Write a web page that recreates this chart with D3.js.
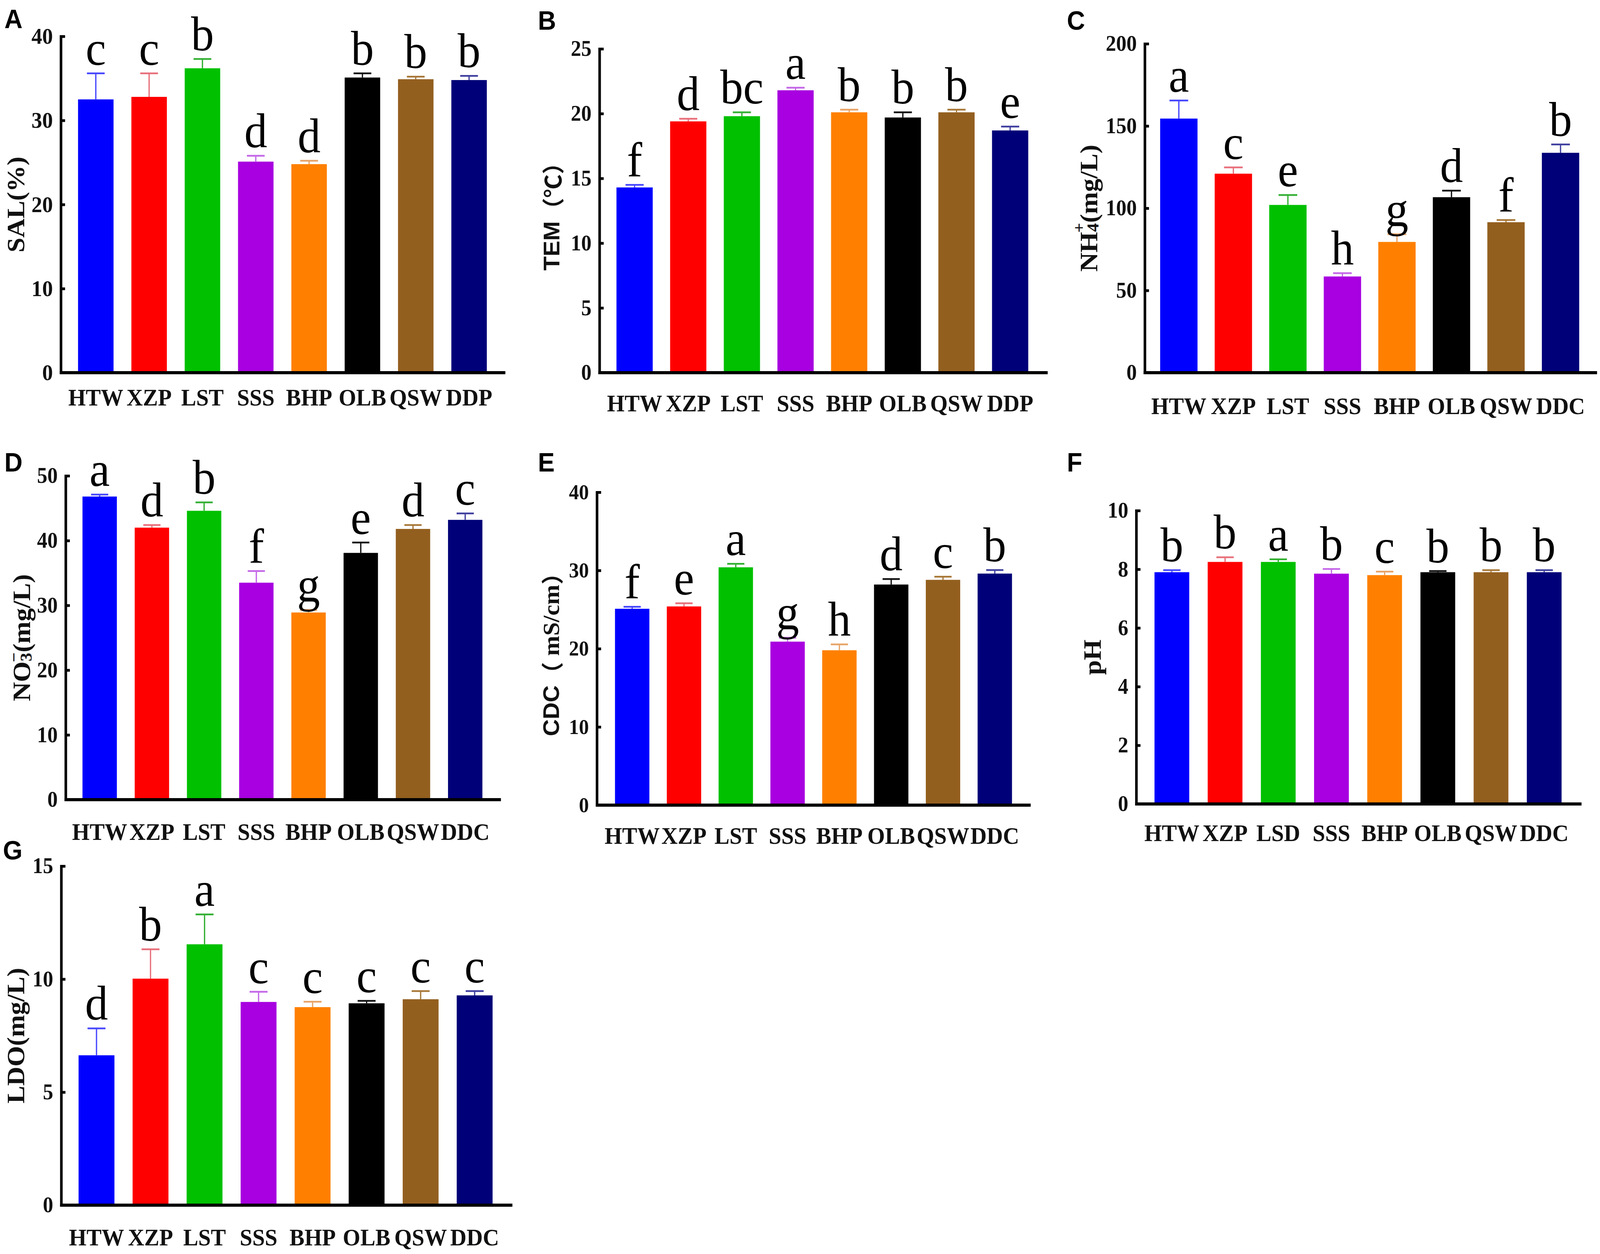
<!DOCTYPE html>
<html>
<head>
<meta charset="utf-8">
<script src="https://cdn.jsdelivr.net/npm/d3@7"></script>
<style>
  html, body { margin: 0; padding: 0; background: #ffffff; overflow: hidden; width: 100%; height: 100%; }
  svg { display: block; width: 100vw; height: 100vh; }
</style>
</head>
<body>
<svg id="chart" viewBox="0 0 4328 3210" preserveAspectRatio="none"></svg>
<script>
// ---------------- DATA ----------------
const sitesAB = ["HTW","XZP","LST","SSS","BHP","OLB","QSW","DDP"];
const sitesCDEG = ["HTW","XZP","LST","SSS","BHP","OLB","QSW","DDC"];
const sitesF = ["HTW","XZP","LSD","SSS","BHP","OLB","QSW","DDC"];

const salMean = [32.5, 32.8, 36.2, 25.1, 24.8, 35.1, 34.9, 34.8];
const salSD   = [3.1, 2.8, 1.1, 0.7, 0.4, 0.5, 0.3, 0.5];
const salSig  = ["c","c","b","d","d","b","b","b"];
const salTicks = [0, 10, 20, 30, 40];

const temMean = [14.3, 19.4, 19.8, 21.8, 20.1, 19.7, 20.1, 18.7];
const temSD   = [0.2, 0.2, 0.3, 0.2, 0.2, 0.4, 0.2, 0.3];
const temSig  = ["f","d","bc","a","b","b","b","e"];
const temTicks = [0, 5, 10, 15, 20, 25];

const nh4Mean = [154.5, 121.0, 102.0, 58.5, 79.5, 106.7, 91.5, 133.7];
const nh4SD   = [11.0, 3.8, 6.0, 2.0, 4.7, 4.0, 1.3, 5.1];
const nh4Sig  = ["a","c","e","h","g","d","f","b"];
const nh4Ticks = [0, 50, 100, 150, 200];

const no3Mean = [46.8, 42.0, 44.6, 33.5, 28.9, 38.1, 41.8, 43.2];
const no3SD   = [0.3, 0.4, 1.3, 1.8, 0.4, 1.6, 0.6, 1.0];
const no3Sig  = ["a","d","b","f","g","e","d","c"];
const no3Ticks = [0, 10, 20, 30, 40, 50];

const cdcMean = [25.1, 25.4, 30.4, 20.9, 19.8, 28.2, 28.8, 29.6];
const cdcSD   = [0.25, 0.4, 0.45, 0.5, 0.75, 0.7, 0.4, 0.45];
const cdcSig  = ["f","e","a","g","h","d","c","b"];
const cdcTicks = [0, 10, 20, 30, 40];

const phMean = [7.9, 8.25, 8.25, 7.85, 7.8, 7.9, 7.9, 7.9];
const phSD   = [0.07, 0.16, 0.09, 0.16, 0.12, 0.04, 0.07, 0.07];
const phSig  = ["b","b","a","b","c","b","b","b"];
const phTicks = [0, 2, 4, 6, 8, 10];

const ldoMean = [6.63, 10.02, 11.54, 8.99, 8.76, 8.93, 9.11, 9.28];
const ldoSD   = [1.19, 1.30, 1.32, 0.45, 0.24, 0.11, 0.36, 0.19];
const ldoSig  = ["d","b","a","c","c","c","c","c"];
const ldoTicks = [0, 5, 10, 15];

const barColors = ["#0000ff","#ff0000","#00c000","#a800e0","#ff8000","#000000","#935f1f","#000078"];
const errColors = ["#4848ff","#e8707c","#34b034","#c468e8","#e8a468","#111111","#a87838","#4040a0"];

// ---------------- FONTS ----------------
const SERIF = "'Liberation Serif','Times New Roman',serif";
const SANS = "'Liberation Sans',Arial,sans-serif";
const CJK = "'Noto Sans CJK SC','Noto Sans',sans-serif";

// y label parts (text pieces with font styling)
const S = (t, o) => Object.assign({t, f: SERIF, w: 700, s: 68}, o || {});
const ylabSAL = [S("SAL(%)")];
const ylabTEM = [S("TEM", {f: SANS, s: 60}), S("（℃）", {f: CJK, s: 60})];
const ylabNH4 = [S("NH"), S("4", {s: 44, dy: 12}), S("+", {s: 44, dx: -24, dy: -38}), S("(mg/L)", {dy: 26})];
const ylabNO3 = [S("NO"), S("3", {s: 44, dy: 12}), S("−", {s: 44, dx: -24, dy: -34}), S("(mg/L)", {dy: 22})];
const ylabCDC = [S("CDC", {f: SANS, s: 60}), S("（", {f: CJK, s: 60}), S(" mS/cm", {s: 62}), S("）", {f: CJK, s: 60})];
const ylabPH = [S("pH")];
const ylabLDO = [S("LDO(mg/L)")];

// ---------------- LAYOUT ----------------
const panels = [
  {id:"A", cats:sitesAB, mean:salMean, sd:salSD, sig:salSig, ticks:salTicks, ylab:ylabSAL,
   axisX:165, right:1367, b0:187, b1:1341, barW:96, top:93, base:954, labY:1016, tagX:12, tagY:72, ylabX:42, tickFs:58},
  {id:"B", cats:sitesAB, mean:temMean, sd:temSD, sig:temSig, ticks:temTicks, ylab:ylabTEM,
   axisX:1622, right:2834, b0:1644, b1:2805, barW:98, top:125, base:954, labY:1031, tagX:1455, tagY:76, ylabX:1492, tickFs:56},
  {id:"C", cats:sitesCDEG, mean:nh4Mean, sd:nh4SD, sig:nh4Sig, ticks:nh4Ticks, ylab:ylabNH4,
   axisX:3097, right:4320, b0:3115, b1:4295, barW:101, top:112, base:954, labY:1038, tagX:2886, tagY:76, ylabX:2944, tickFs:56},
  {id:"D", cats:sitesCDEG, mean:no3Mean, sd:no3SD, sig:no3Sig, ticks:no3Ticks, ylab:ylabNO3,
   axisX:178, right:1355, b0:199, b1:1329, barW:93, top:1218, base:2047, labY:2128, tagX:12, tagY:1207, ylabX:58, tickFs:56},
  {id:"E", cats:sitesCDEG, mean:cdcMean, sd:cdcSD, sig:cdcSig, ticks:cdcTicks, ylab:ylabCDC,
   axisX:1615, right:2788, b0:1640, b1:2761, barW:93, top:1260, base:2061, labY:2138, tagX:1455, tagY:1207, ylabX:1490, tickFs:54},
  {id:"F", cats:sitesF, mean:phMean, sd:phSD, sig:phSig, ticks:phTicks, ylab:ylabPH,
   axisX:3074, right:4278, b0:3098, b1:4249, barW:94, top:1307, base:2058, labY:2131, tagX:2886, tagY:1207, ylabX:2954, tickFs:56},
  {id:"G", cats:sitesCDEG, mean:ldoMean, sd:ldoSD, sig:ldoSig, ticks:ldoTicks, ylab:ylabLDO,
   axisX:166, right:1386, b0:188, b1:1357, barW:97, top:2217, base:3085, labY:3166, tagX:8, tagY:2200, ylabX:42, tickFs:56}
];

const svg = d3.select("#chart");
svg.append("rect").attr("width", 4328).attr("height", 3210).attr("fill", "#ffffff");

function drawPanel(p) {
  const g = svg.append("g").attr("class", "panel-" + p.id);
  const ymax = p.ticks[p.ticks.length - 1];
  const y = d3.scaleLinear().domain([0, ymax]).range([p.base, p.top]);
  const step = (p.b1 - p.b0) / p.cats.length;
  const pad = 1 - p.barW / step;
  const x = d3.scaleBand().domain(p.cats).range([p.b0, p.b1]).paddingInner(pad).paddingOuter(pad / 2);
  const bw = x.bandwidth();
  const rows = p.cats.map((c, i) => ({c, i, m: p.mean[i], sd: p.sd[i], sig: p.sig[i]}));

  // bars
  g.selectAll("rect.bar").data(rows).join("rect")
    .attr("class", "bar")
    .attr("x", d => x(d.c))
    .attr("width", bw)
    .attr("y", d => y(d.m))
    .attr("height", d => y(0) - y(d.m))
    .attr("fill", d => barColors[d.i]);

  // error bars (upper)
  const eg = g.selectAll("g.err").data(rows).join("g").attr("class", "err");
  eg.append("line")
    .attr("x1", d => x(d.c) + bw / 2).attr("x2", d => x(d.c) + bw / 2)
    .attr("y1", d => y(d.m)).attr("y2", d => y(d.m + d.sd))
    .attr("stroke", d => errColors[d.i]).attr("stroke-width", 3.5);
  eg.append("line")
    .attr("x1", d => x(d.c) + bw * 0.25).attr("x2", d => x(d.c) + bw * 0.75)
    .attr("y1", d => y(d.m + d.sd)).attr("y2", d => y(d.m + d.sd))
    .attr("stroke", d => errColors[d.i]).attr("stroke-width", 4.5);

  // significance letters
  g.selectAll("text.sig").data(rows).join("text")
    .attr("class", "sig")
    .attr("x", d => x(d.c) + bw / 2)
    .attr("y", d => y(d.m + d.sd) - 22)
    .attr("text-anchor", "middle")
    .attr("font-family", SERIF)
    .attr("font-size", 124)
    .attr("fill", "#000")
    .text(d => d.sig);

  // y axis (ticks pointing inward)
  const yAxis = d3.axisLeft(y).tickValues(p.ticks).tickFormat(d3.format("d"))
    .tickSizeInner(-11).tickSizeOuter(0).tickPadding(22);
  const ya = g.append("g").attr("transform", `translate(${p.axisX},0)`).call(yAxis);
  ya.select(".domain").attr("stroke", "#000").attr("stroke-width", 7)
    .attr("d", `M0,${p.top - 3}V${p.base + 4}`);
  ya.selectAll(".tick line").attr("stroke", "#000").attr("stroke-width", 7);
  ya.selectAll(".tick text")
    .attr("font-family", SERIF).attr("font-weight", 700)
    .attr("font-size", p.tickFs).attr("fill", "#111");

  // x axis: baseline + category labels
  const xAxis = d3.axisBottom(x).tickSize(0).tickPadding(p.labY - p.base - 21);
  const xa = g.append("g").attr("transform", `translate(0,${p.base})`).call(xAxis);
  xa.select(".domain").remove();
  xa.selectAll(".tick text")
    .attr("font-family", SERIF).attr("font-weight", 700)
    .attr("font-size", 61).attr("fill", "#111")
    .attr("dy", "0.71em");
  g.append("line")
    .attr("x1", p.axisX - 3.5).attr("x2", p.right)
    .attr("y1", p.base).attr("y2", p.base)
    .attr("stroke", "#000").attr("stroke-width", 8);

  // y axis title (rotated)
  const cy = (p.top + p.base) / 2;
  const t = g.append("text")
    .attr("transform", `translate(${p.ylabX},${cy}) rotate(-90)`)
    .attr("text-anchor", "middle")
    .attr("dominant-baseline", "central")
    .attr("fill", "#111");
  p.ylab.forEach(part => {
    const ts = t.append("tspan")
      .attr("font-family", part.f).attr("font-weight", part.w)
      .attr("font-size", part.s)
      .text(part.t);
    if (part.dx) ts.attr("dx", part.dx);
    if (part.dy) ts.attr("dy", part.dy);
  });

  // panel tag
  g.append("text")
    .attr("x", p.tagX).attr("y", p.tagY)
    .attr("font-family", SANS).attr("font-weight", 700)
    .attr("font-size", 68).attr("fill", "#000")
    .text(p.id);
}

panels.forEach(drawPanel);
</script>
</body>
</html>
